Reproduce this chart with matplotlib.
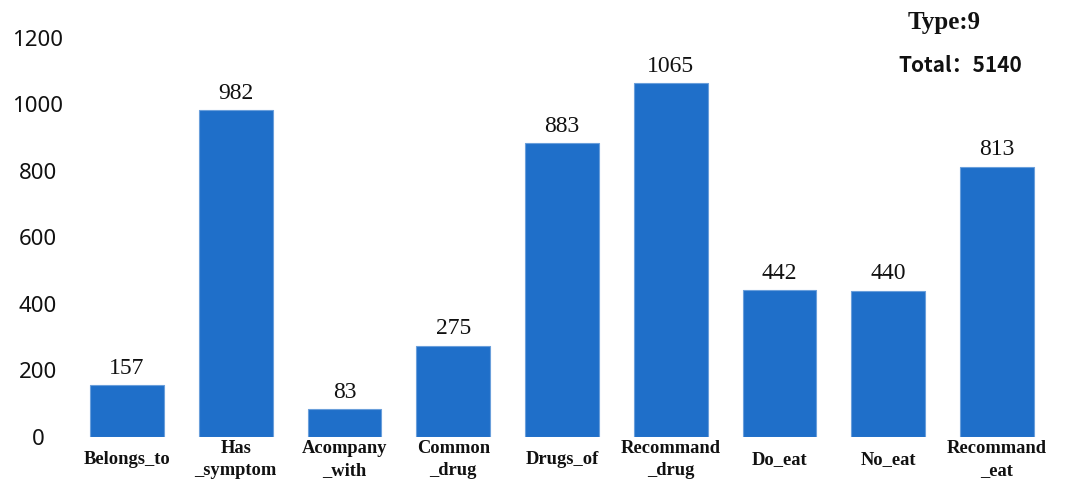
import matplotlib
matplotlib.use("Agg")
import matplotlib.pyplot as plt

relations = ["Belongs_to", "Has\n_symptom", "Acompany\n_with", "Common\n_drug",
             "Drugs_of", "Recommand\n_drug", "Do_eat", "No_eat", "Recommand\n_eat"]
counts = [157, 982, 83, 275, 883, 1065, 442, 440, 813]
y_ticks = [0, 200, 400, 600, 800, 1000, 1200]
type_text = "Type:9"
total_text = "Total：5140"

W, H = 1067, 492
fig = plt.figure(figsize=(W / 100, H / 100), dpi=100)
ax = fig.add_axes([72.6 / W, (H - 437) / H, 978.75 / W, 399 / H])

bar_color = "#1F6FC9"
x = list(range(len(relations)))
ax.bar(x, counts, width=0.68, color=bar_color, edgecolor="#6A9FDB", linewidth=0.8)

for xi, v in zip(x, counts):
    ax.annotate(str(v), (xi, v), xytext=(0, 4.5), textcoords="offset points",
                ha="center", va="bottom", fontsize=17, family="Liberation Serif",
                color="#111111")

ax.set_xlim(-0.5, len(relations) - 0.5)
ax.set_ylim(0, 1200)
ax.set_yticks(y_ticks)
ax.set_yticklabels([str(t) for t in y_ticks], fontsize=16, family="Noto Sans", color="#111111")
for lbl in ax.get_yticklabels():
    lbl.set_horizontalalignment("center")
ax.tick_params(axis="y", length=0, pad=25)

ax.set_xticks(x)
ax.set_xticklabels(relations, fontsize=13.3, family="Liberation Serif",
                   fontweight="bold", color="#111111", linespacing=1.4)
for lbl in ax.get_xticklabels():
    lbl.set_verticalalignment("center")
ax.tick_params(axis="x", length=0, pad=16)

for s in ax.spines.values():
    s.set_visible(False)

fig.text(944 / W, 1 - 22 / H, type_text, ha="center", va="center", fontsize=18,
         family="Liberation Serif", fontweight="bold", color="#111111")
fig.text(960 / W, 1 - 66 / H, total_text, ha="center", va="center", fontsize=15,
         family=["Noto Sans CJK SC", "DejaVu Sans"], fontweight="bold", color="#111111")

fig.savefig("out.png", dpi=100, facecolor="white")
